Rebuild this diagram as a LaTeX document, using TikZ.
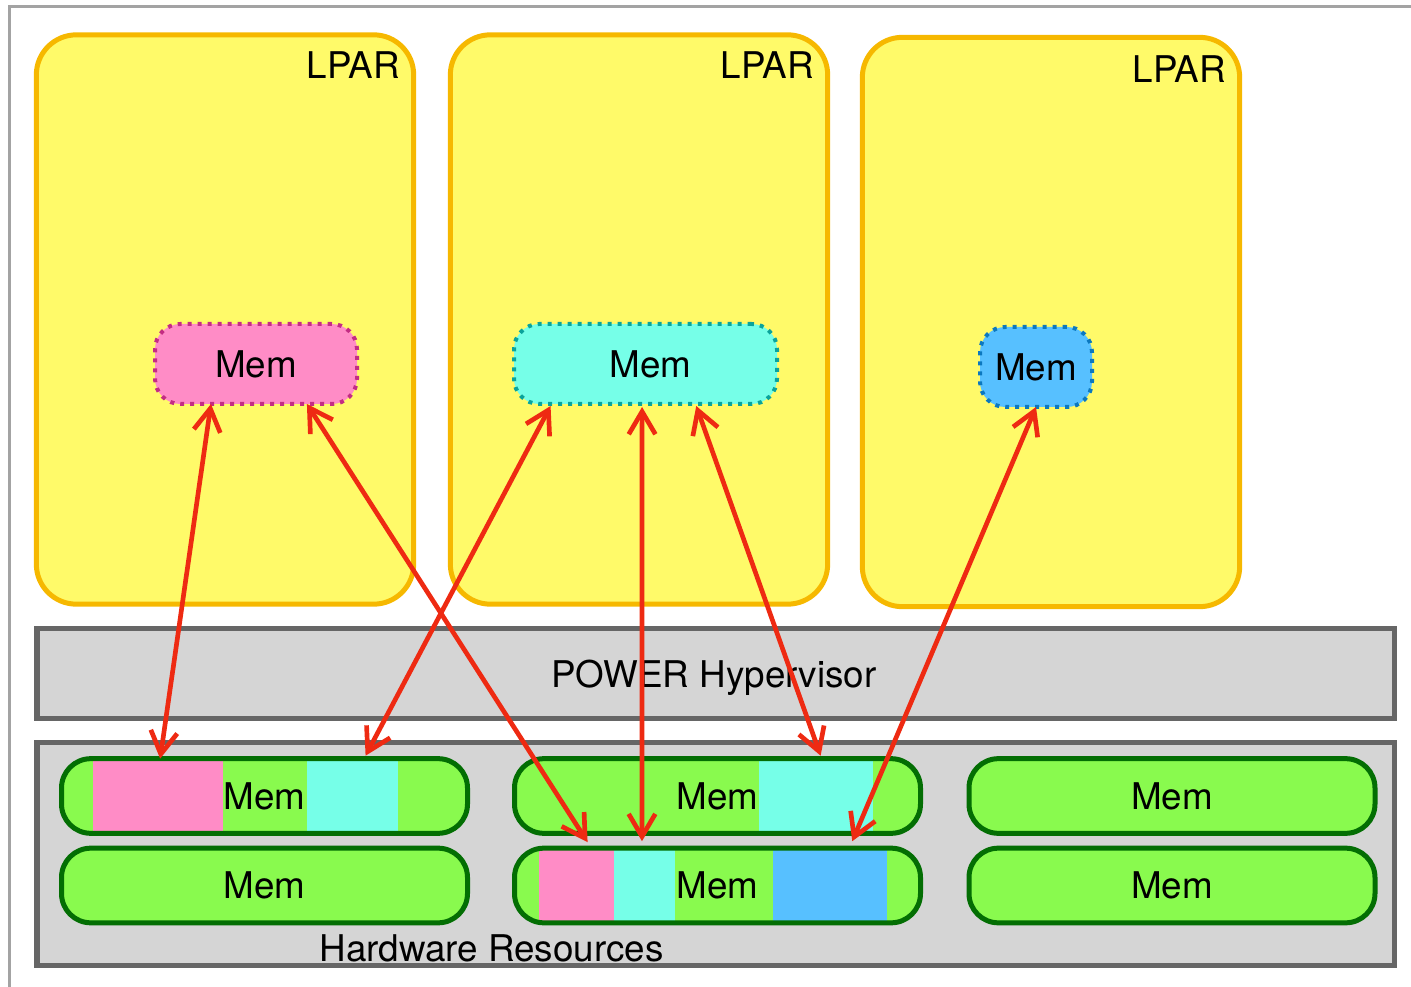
\documentclass[tikz,border=0pt]{standalone}
\usepackage{fontspec}
\setmainfont{TeX Gyre Heros}
\usetikzlibrary{arrows.meta,calc}
\definecolor{lparfill}{HTML}{FFFA69}
\definecolor{lparline}{HTML}{F6B800}
\definecolor{pinkfill}{HTML}{FF8CC6}
\definecolor{pinkline}{HTML}{C42C84}
\definecolor{cyanfill}{HTML}{76FFE8}
\definecolor{cyanline}{HTML}{0AA39B}
\definecolor{bluefill}{HTML}{57C0FF}
\definecolor{blueline}{HTML}{0B78BF}
\definecolor{hwfill}{HTML}{89FA4E}
\definecolor{hwline}{HTML}{036E03}
\definecolor{greyfill}{HTML}{D5D5D5}
\definecolor{greyline}{HTML}{666666}
\definecolor{framegrey}{HTML}{A3A3A3}
\definecolor{arrowred}{HTML}{EE2A12}

\begin{document}
\begin{tikzpicture}[x=0.75pt,y=-0.75pt,
  every node/.style={font=\fontsize{27.6}{33}\selectfont, inner sep=0pt, outer sep=0pt},
  lpar/.style={draw=lparline, fill=lparfill, line width=3.75pt, rounded corners=30pt,
    minimum width=283pt, minimum height=427pt},
  vmem/.style={line width=3pt, dash pattern=on 3pt off 4.5pt, rounded corners=19pt,
    minimum height=60pt},
  layerbox/.style={draw=greyline, fill=greyfill, line width=4pt, minimum width=1018pt},
  hwbase/.style={fill=hwfill, rounded corners=22pt, minimum width=304.5pt, minimum height=56pt},
  hwmem/.style={draw=hwline, line width=3.75pt, rounded corners=22pt,
    minimum width=304.5pt, minimum height=56pt},
  link/.style={draw=arrowred, line width=3.5pt,
    {Straight Barb[length=17pt,width=20pt]}-{Straight Barb[length=17pt,width=20pt]}}
]
\useasboundingbox (0,0) rectangle (1411,987);

% outer frame
\draw[framegrey, line width=2pt] (9.5,1000) -- (9.5,6.5) -- (1420,6.5);

% logical partitions
\node[lpar] (l1) at (225,319.5) {};
\node[lpar] (l2) at (639,319.5) {};
\node[lpar] (l3) at (1051,322) {};
\node[anchor=north east] (l1t) at (400,52) {LPAR};
\node[anchor=north east] (l2t) at (814,52) {LPAR};
\node[anchor=north east] (l3t) at (1226,56) {LPAR};

% partition memory
\node[vmem, draw=pinkline, fill=pinkfill, minimum width=151.5pt] (pm) at (256,364) {Mem};
\node[vmem, draw=cyanline, fill=cyanfill, minimum width=197.25pt] (cm) at (645.5,364) {};
\node (cmt) at (650.5,364) {Mem};
\node[vmem, draw=blueline, fill=bluefill, minimum width=84pt] (bm) at (1036,367) {Mem};

% hypervisor and hardware layers
\node[layerbox, minimum height=67.5pt] (hyp) at (715.5,673.5) {};
\node[anchor=base] (hypt) at (714,687) {POWER Hypervisor};
\node[layerbox, minimum height=167pt] (hw) at (715.5,854) {};
\node[anchor=base] (hwt) at (491.5,961) {Hardware Resources};

% physical memory: green backgrounds
\node[hwbase] (h11b) at (264.5,796) {};
\node[hwbase] (h12b) at (264.5,885.5) {};
\node[hwbase] (h21b) at (717.5,796) {};
\node[hwbase] (h22b) at (717.5,885.5) {};
\node[hwbase] (h31b) at (1172,796) {};
\node[hwbase] (h32b) at (1172,885.5) {};

% allocated regions
\fill[pinkfill] (93,759) rectangle (223,834);
\fill[cyanfill] (307,759) rectangle (398,834);
\fill[cyanfill] (759,759) rectangle (873,834);
\fill[pinkfill] (539,847) rectangle (614,923);
\fill[cyanfill] (614,847) rectangle (675,923);
\fill[bluefill] (773,847) rectangle (887,923);

% physical memory: outlines and labels
\node[hwmem] (h11) at (264.5,796) {Mem};
\node[hwmem] (h12) at (264.5,885.5) {Mem};
\node[hwmem] (h21) at (717.5,796) {Mem};
\node[hwmem] (h22) at (717.5,885.5) {Mem};
\node[hwmem] (h31) at (1172,796) {Mem};
\node[hwmem] (h32) at (1172,885.5) {Mem};

% mappings
\draw[link] ($(pm.south west)!0.277!(pm.south east)$) -- ($(h11.north west)!0.243!(h11.north east)$);
\draw[link] ($(pm.south west)!0.752!(pm.south east)$) -- ($(h22.north west)!0.18!(h22.north east)+(0,-6)$);
\draw[link] ($(cm.south west)!0.139!(cm.south east)+(0,2)$) -- ($(h11.north west)!0.749!(h11.north east)+(0,-3)$);
\draw[link] ($(cm.south west)!0.487!(cm.south east)+(0,3)$) -- ($(h22.north west)!0.314!(h22.north east)+(0,-7)$);
\draw[link] ($(cm.south west)!0.693!(cm.south east)+(0,2)$) -- ($(h21.north west)!0.754!(h21.north east)+(0,-3)$);
\draw[link] (bm.south) -- ($(h22.north west)!0.832!(h22.north east)+(0,-7)$);
\end{tikzpicture}
\end{document}
